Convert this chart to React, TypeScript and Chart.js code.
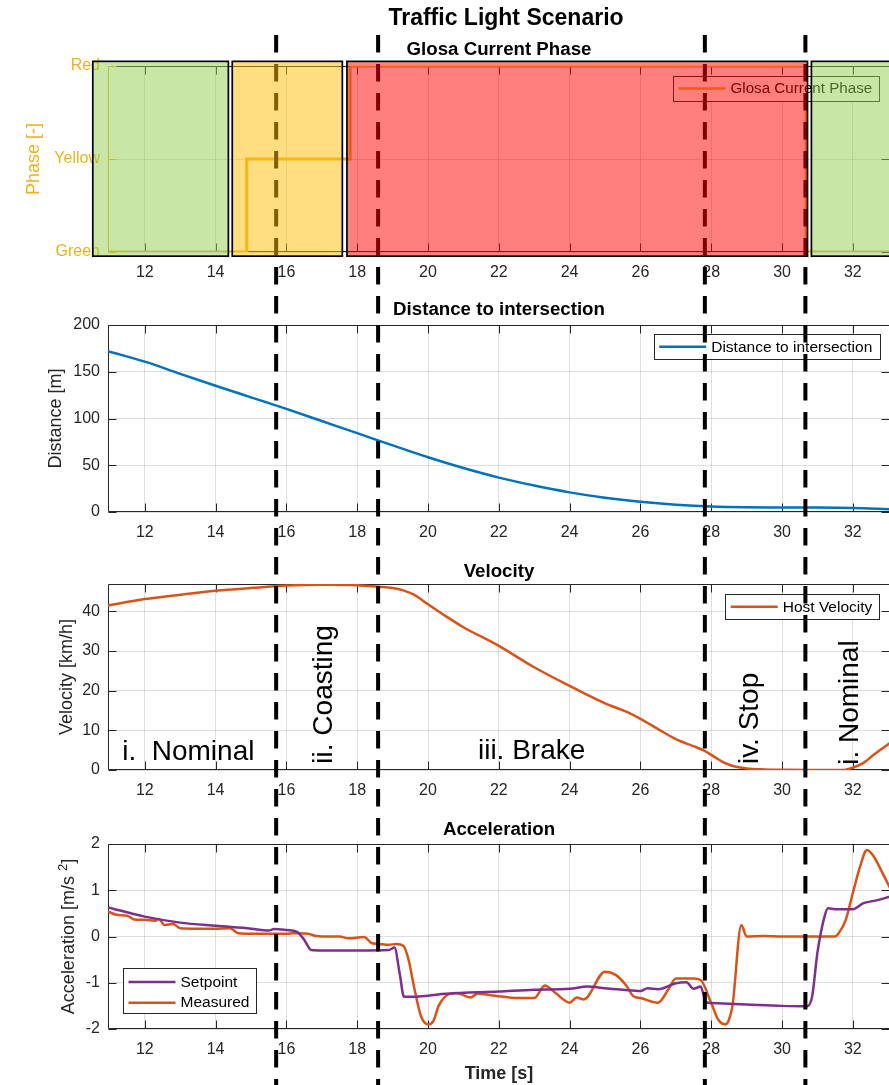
import React, { useEffect, useRef } from 'react';
import { Chart, registerables } from 'chart.js';

Chart.register(...registerables);

// ---------------- data ----------------
const TIME_MIN = 10.96;
const TIME_MAX = 33.05;
const TIME_TICKS = [12, 14, 16, 18, 20, 22, 24, 26, 28, 30, 32];

const PHASE_TIME = [10.96, 14.88, 17.8, 30.68, 33.05];
const PHASE_VALUE = [0, 1, 2, 0, 0];
const PHASE_TICKS = [0, 1, 2];
const PHASE_TICK_LABELS = ['Green', 'Yellow', 'Red'];

const LIGHT_NAME = ['green', 'yellow', 'red', 'green'];
const LIGHT_START = [10.53, 14.47, 17.71, 30.83];
const LIGHT_END = [14.36, 17.58, 30.72, 34.6];
const LIGHT_LOW = -0.045;
const LIGHT_HIGH = 2.05;

const DIST_TIME = [10.96, 12, 13, 14, 15, 16, 17, 18, 19, 20, 21, 22, 23, 24, 25, 26, 27, 28, 29, 30, 31, 32, 33.05];
const DIST_VALUE = [172, 160.8, 147.8, 135, 122.6, 110.3, 97.3, 84.3, 71.2, 58.5, 47, 36.8, 28.3, 21, 15.2, 10.9, 7.8, 5.8, 5.0, 4.8, 4.7, 4.2, 3.0];
const DIST_TICKS = [0, 50, 100, 150, 200];

const VEL_TIME = [10.96, 12, 13, 14, 15, 16, 17, 18, 18.6, 19, 19.3, 19.6, 20, 20.5, 21, 22, 23, 24, 25, 25.6, 26, 26.5, 27, 27.5, 27.8, 28, 28.2, 28.4, 28.7, 29, 29.5, 30, 31, 31.7, 32, 32.3, 32.6, 33.05];
const VEL_VALUE = [41.5, 43.1, 44.2, 45.2, 45.9, 46.5, 46.7, 46.6, 46.2, 45.9, 45.3, 44.2, 41.8, 38.8, 36, 31.3, 25.9, 21.2, 16.8, 14.7, 12.9, 10.3, 7.8, 6.0, 4.9, 3.8, 2.7, 1.7, 0.8, 0.4, 0.15, 0.05, 0, 0, 0.6, 1.8, 3.9, 6.8];
const VEL_TICKS = [0, 10, 20, 30, 40];
const VEL_MAX = 46.9;

const SET_TIME = [10.96, 12, 13, 14, 15, 15.5, 15.65, 16, 16.3, 16.5, 16.7, 17, 18, 18.9, 19.05, 19.2, 19.32, 19.6, 20, 20.5, 22, 23, 24, 24.5, 25, 25.5, 26, 26.2, 26.5, 27, 27.3, 27.5, 27.7, 27.85, 28, 29, 30, 30.7, 30.85, 31.0, 31.2, 31.3, 31.5, 32, 32.3, 32.6, 33.05];
const SET_VALUE = [0.63, 0.43, 0.30, 0.23, 0.17, 0.13, 0.16, 0.14, 0.10, -0.07, -0.29, -0.30, -0.30, -0.29, -0.24, -0.8, -1.3, -1.3, -1.28, -1.24, -1.19, -1.15, -1.13, -1.08, -1.12, -1.15, -1.18, -1.12, -1.14, -1.01, -0.99, -1.13, -1.08, -1.42, -1.44, -1.47, -1.50, -1.51, -1.30, -0.35, 0.43, 0.61, 0.59, 0.59, 0.72, 0.77, 0.86];

const MEAS_TIME = [10.96, 11.2, 11.5, 11.7, 12, 12.3, 12.4, 12.55, 12.8, 13.0, 13.5, 14, 14.4, 14.65, 15, 16, 16.2, 16.6, 16.85, 17, 17.5, 17.75, 18.2, 18.4, 18.6, 18.9, 19.1, 19.3, 19.45, 19.6, 19.8, 20, 20.15, 20.3, 20.6, 20.8, 21.2, 21.4, 21.6, 22, 22.5, 23, 23.3, 23.6, 24, 24.2, 24.4, 25, 25.3, 25.6, 25.8, 26, 26.5, 26.8, 27, 27.5, 27.7, 28, 28.2, 28.4, 28.5, 28.6, 28.85, 29, 29.5, 30, 31, 31.5, 31.6, 31.8, 32, 32.2, 32.4, 32.6, 32.8, 33.05];
const MEAS_VALUE = [0.54, 0.47, 0.45, 0.37, 0.36, 0.34, 0.38, 0.25, 0.27, 0.18, 0.17, 0.17, 0.18, 0.07, 0.06, 0.06, 0.07, 0.06, 0.01, 0.0, 0.0, -0.04, -0.01, -0.14, -0.16, -0.18, -0.16, -0.2, -0.5, -1.07, -1.72, -1.9, -1.83, -1.5, -1.24, -1.22, -1.32, -1.23, -1.25, -1.29, -1.33, -1.33, -1.06, -1.22, -1.43, -1.32, -1.36, -0.76, -0.83, -1.06, -1.29, -1.33, -1.43, -1.13, -0.91, -0.91, -0.94, -1.44, -1.8, -1.9, -1.8, -1.5, 0.25, 0.0, 0.01, 0.0, 0.0, 0.0, 0.07, 0.36, 0.94, 1.5, 1.87, 1.72, 1.43, 1.05];
const ACC_TICKS = [-2, -1, 0, 1, 2];

const STAGE_BOUNDARY_TIME = [15.71, 18.59, 27.82, 30.66];
const STAGE_LABELS = ['i.  Nominal', 'ii. Coasting', 'iii. Brake', 'iv. Stop', 'i. Nominal'];
const STAGE_TIME = [11.36, 17.28, 21.41, 29.32, 32.15];
const STAGE_SPEED = [2.5, 1.6, 2.8, 1.5, 1.3];
const STAGE_VERTICAL = [false, true, false, true, true];

// ---------------- style ----------------
const FONT = "'Liberation Sans', Arial, Helvetica, sans-serif";
const INK = '#262626';
const GRID = 'rgba(38,38,38,0.15)';
const PHASE_COLOR = '#EDB120';
const DIST_COLOR = '#0072BD';
const VEL_COLOR = '#D95319';
const SET_COLOR = '#7E2F8E';
const MEAS_COLOR = '#D95319';
const LIGHT_FILL: Record<string, string> = {
  green: 'rgba(145,205,75,0.5)',
  yellow: 'rgba(255,190,0,0.5)',
  red: 'rgba(255,0,0,0.5)',
};

const CANVAS_W = 890;
const Y_AXIS_W = 108;
const PANEL_TOP = [0, 290, 550, 810];
const PANEL_H = [290, 260, 260, 275];
const PLOT_TOP = [66, 35, 34, 34];
const X_AXIS_H = [38, 38, 40, 56];
const DASH_START = 35;
const DASH = [17.5, 11.5];

function pts(xs: number[], ys: number[]) {
  return xs.map((x, i) => ({ x, y: ys[i] }));
}

function panelOptions(i: number, y: any, xTitle: boolean) {
  return {
    responsive: false,
    animation: false,
    devicePixelRatio: 1,
    events: [],
    layout: { padding: { top: PLOT_TOP[i], left: 0, right: 0, bottom: 0 } },
    plugins: { legend: { display: false }, title: { display: false }, tooltip: { enabled: false } },
    scales: {
      x: {
        type: 'linear',
        min: TIME_MIN,
        max: TIME_MAX,
        afterBuildTicks: (s: any) => { s.ticks = TIME_TICKS.map((v) => ({ value: v })); },
        afterFit: (s: any) => { s.height = X_AXIS_H[i]; },
        ticks: {
          font: { family: FONT, size: 16 },
          color: INK,
          padding: 10.5,
          maxRotation: 0,
          autoSkip: false,
          callback: (v: any) => String(v),
        },
        grid: { color: GRID, drawTicks: false, lineWidth: 1 },
        border: { display: false },
        title: xTitle
          ? { display: true, text: 'Time [s]', color: INK, font: { family: FONT, size: 18, weight: 'bold' }, padding: { top: 0, bottom: 0 } }
          : { display: false },
      },
      y: {
        type: 'linear',
        min: y.min,
        max: y.max,
        afterBuildTicks: (s: any) => { s.ticks = y.ticks.map((v: number) => ({ value: v })); },
        afterFit: (s: any) => { s.width = Y_AXIS_W; },
        ticks: {
          font: { family: FONT, size: 16 },
          color: y.color || INK,
          padding: 8,
          autoSkip: false,
          callback: y.label || ((v: any) => String(v)),
        },
        grid: { color: GRID, drawTicks: false, lineWidth: 1 },
        border: { display: false },
      },
    },
  } as any;
}

function axesPlugin(leftColor: string) {
  return {
    id: 'matlabAxes',
    beforeDatasetsDraw(chart: any) {
      const { ctx, chartArea: a, scales } = chart;
      const L = Math.round(a.left) + 0.5;
      const R = Math.round(a.right) - 0.5;
      const T = Math.round(a.top) + 0.5;
      const B = Math.round(a.bottom) - 0.5;
      const tl = 8;
      ctx.save();
      ctx.lineWidth = 1;
      ctx.strokeStyle = INK;
      ctx.beginPath();
      ctx.moveTo(L, T); ctx.lineTo(R, T);
      ctx.moveTo(L, B); ctx.lineTo(R, B);
      ctx.moveTo(R, T); ctx.lineTo(R, B);
      for (const v of TIME_TICKS) {
        const x = Math.round(scales.x.getPixelForValue(v)) + 0.5;
        ctx.moveTo(x, B); ctx.lineTo(x, B - tl);
        ctx.moveTo(x, T); ctx.lineTo(x, T + tl);
      }
      for (const t of scales.y.ticks) {
        const y = Math.round(scales.y.getPixelForValue(t.value)) + 0.5;
        ctx.moveTo(R, y); ctx.lineTo(R - tl, y);
      }
      ctx.stroke();
      ctx.strokeStyle = leftColor;
      ctx.beginPath();
      ctx.moveTo(L, T); ctx.lineTo(L, B);
      for (const t of scales.y.ticks) {
        const y = Math.round(scales.y.getPixelForValue(t.value)) + 0.5;
        ctx.moveTo(L, y); ctx.lineTo(L + tl, y);
      }
      ctx.stroke();
      ctx.restore();
    },
  };
}

function drawTitle(chart: any, text: string, y: number, size: number, x?: number) {
  const { ctx, chartArea: a } = chart;
  ctx.save();
  ctx.font = `bold ${size}px ${FONT}`;
  ctx.fillStyle = '#000';
  ctx.textAlign = 'center';
  ctx.textBaseline = 'middle';
  ctx.fillText(text, x ?? (a.left + a.right) / 2, y);
  ctx.restore();
}

function drawYLabel(chart: any, text: string, x: number, color: string) {
  const { ctx, chartArea: a } = chart;
  ctx.save();
  ctx.translate(x, (a.top + a.bottom) / 2);
  ctx.rotate(-Math.PI / 2);
  ctx.font = `18px ${FONT}`;
  ctx.fillStyle = color;
  ctx.textAlign = 'center';
  ctx.textBaseline = 'middle';
  ctx.fillText(text, 0, 0);
  ctx.restore();
}

function drawAccLabel(chart: any, x: number) {
  const { ctx, chartArea: a } = chart;
  const main = 'Acceleration [m/s ';
  const sup = '2';
  const close = ']';
  ctx.save();
  ctx.translate(x, (a.top + a.bottom) / 2);
  ctx.rotate(-Math.PI / 2);
  ctx.fillStyle = INK;
  ctx.textBaseline = 'middle';
  ctx.textAlign = 'left';
  ctx.font = `18px ${FONT}`;
  const w1 = ctx.measureText(main).width;
  const w3 = ctx.measureText(close).width;
  ctx.font = `13px ${FONT}`;
  const w2 = ctx.measureText(sup).width;
  const start = -(w1 + w2 + w3) / 2;
  ctx.font = `18px ${FONT}`;
  ctx.fillText(main, start, 0);
  ctx.font = `13px ${FONT}`;
  ctx.fillText(sup, start + w1, -6);
  ctx.font = `18px ${FONT}`;
  ctx.fillText(close, start + w1 + w2, 0);
  ctx.restore();
}

function drawLegend(ctx: CanvasRenderingContext2D, entries: { label: string; color: string }[], left: number | null, right: number | null, top: number, fontSize: number) {
  ctx.save();
  ctx.font = `${fontSize}px ${FONT}`;
  const textW = Math.max(...entries.map((e) => ctx.measureText(e.label).width));
  const w = 57.5 + textW + 7;
  const h = entries.length === 1 ? 25 : 45;
  const x0 = left != null ? left : (right as number) - w;
  ctx.fillStyle = '#fff';
  ctx.fillRect(x0, top, w, h);
  ctx.strokeStyle = INK;
  ctx.lineWidth = 1;
  ctx.strokeRect(Math.round(x0) + 0.5, Math.round(top) + 0.5, Math.round(w), Math.round(h));
  entries.forEach((e, i) => {
    const cy = entries.length === 1 ? top + 12.5 : top + 14 + i * 20.7;
    ctx.strokeStyle = e.color;
    ctx.lineWidth = 2.5;
    ctx.beginPath();
    ctx.moveTo(x0 + 5.5, cy);
    ctx.lineTo(x0 + 52.5, cy);
    ctx.stroke();
    ctx.fillStyle = '#000';
    ctx.textBaseline = 'middle';
    ctx.textAlign = 'left';
    ctx.font = `${fontSize}px ${FONT}`;
    ctx.fillText(e.label, x0 + 57.5, cy + 0.5);
  });
  ctx.restore();
}

function drawBoundaries(chart: any, panel: number, fromY: number) {
  const { ctx, scales } = chart;
  ctx.save();
  ctx.strokeStyle = '#000';
  ctx.lineWidth = 4;
  ctx.setLineDash(DASH);
  ctx.lineDashOffset = PANEL_TOP[panel] + fromY - DASH_START;
  for (const t of STAGE_BOUNDARY_TIME) {
    const x = scales.x.getPixelForValue(t);
    ctx.beginPath();
    ctx.moveTo(x, fromY);
    ctx.lineTo(x, chart.height);
    ctx.stroke();
  }
  ctx.restore();
}

function drawLights(chart: any) {
  const { ctx, scales } = chart;
  const yT = scales.y.getPixelForValue(LIGHT_HIGH);
  const yB = scales.y.getPixelForValue(LIGHT_LOW);
  ctx.save();
  LIGHT_START.forEach((s, i) => {
    const x0 = scales.x.getPixelForValue(s);
    const x1 = scales.x.getPixelForValue(LIGHT_END[i]);
    ctx.fillStyle = LIGHT_FILL[LIGHT_NAME[i]];
    ctx.fillRect(x0, yT, x1 - x0, yB - yT);
    ctx.strokeStyle = '#000';
    ctx.lineWidth = 1.7;
    ctx.strokeRect(x0, yT, x1 - x0, yB - yT);
  });
  ctx.restore();
}

function drawStages(chart: any) {
  const { ctx, scales } = chart;
  ctx.save();
  ctx.font = `28px ${FONT}`;
  ctx.fillStyle = '#000';
  ctx.textAlign = 'left';
  ctx.textBaseline = 'alphabetic';
  STAGE_LABELS.forEach((label, i) => {
    const x = scales.x.getPixelForValue(STAGE_TIME[i]);
    const y = scales.y.getPixelForValue(STAGE_SPEED[i]);
    if (STAGE_VERTICAL[i]) {
      ctx.save();
      ctx.translate(x, y);
      ctx.rotate(-Math.PI / 2);
      ctx.fillText(label, 0, 0);
      ctx.restore();
    } else {
      ctx.fillText(label, x, y);
    }
  });
  ctx.restore();
}

export default function App() {
  const r0 = useRef<HTMLCanvasElement>(null);
  const r1 = useRef<HTMLCanvasElement>(null);
  const r2 = useRef<HTMLCanvasElement>(null);
  const r3 = useRef<HTMLCanvasElement>(null);

  useEffect(() => {
    const charts: Chart[] = [];

    charts.push(new Chart(r0.current as HTMLCanvasElement, {
      type: 'line',
      data: {
        datasets: [{
          label: 'Glosa Current Phase',
          data: pts(PHASE_TIME, PHASE_VALUE),
          borderColor: PHASE_COLOR,
          borderWidth: 3,
          pointRadius: 0,
          stepped: true,
          fill: false,
        }],
      },
      options: panelOptions(0, { min: 0, max: 2, ticks: PHASE_TICKS, color: PHASE_COLOR, label: (v: any) => PHASE_TICK_LABELS[v] ?? '' }, false),
      plugins: [axesPlugin(PHASE_COLOR), {
        id: 'decor0',
        afterDraw(chart: any) {
          drawTitle(chart, 'Traffic Light Scenario', 19, 23, 506);
          drawTitle(chart, 'Glosa Current Phase', 50, 18.7);
          drawYLabel(chart, 'Phase [-]', 34, PHASE_COLOR);
          drawLegend(chart.ctx, [{ label: 'Glosa Current Phase', color: PHASE_COLOR }], null, 879.3, 76, 15.2);
          drawBoundaries(chart, 0, DASH_START);
          drawLights(chart);
        },
      }],
    } as any));

    charts.push(new Chart(r1.current as HTMLCanvasElement, {
      type: 'line',
      data: {
        datasets: [{
          label: 'Distance to intersection',
          data: pts(DIST_TIME, DIST_VALUE),
          borderColor: DIST_COLOR,
          borderWidth: 2.5,
          pointRadius: 0,
          cubicInterpolationMode: 'monotone',
          fill: false,
        }],
      },
      options: panelOptions(1, { min: 0, max: 200, ticks: DIST_TICKS }, false),
      plugins: [axesPlugin(INK), {
        id: 'decor1',
        afterDraw(chart: any) {
          drawTitle(chart, 'Distance to intersection', 20, 18.7);
          drawYLabel(chart, 'Distance [m]', 56, INK);
          drawLegend(chart.ctx, [{ label: 'Distance to intersection', color: DIST_COLOR }], null, 879.3, 44.3, 15.5);
          drawBoundaries(chart, 1, 0);
        },
      }],
    } as any));

    charts.push(new Chart(r2.current as HTMLCanvasElement, {
      type: 'line',
      data: {
        datasets: [{
          label: 'Host Velocity',
          data: pts(VEL_TIME, VEL_VALUE),
          borderColor: VEL_COLOR,
          borderWidth: 2.5,
          pointRadius: 0,
          cubicInterpolationMode: 'monotone',
          fill: false,
        }],
      },
      options: panelOptions(2, { min: 0, max: VEL_MAX, ticks: VEL_TICKS }, false),
      plugins: [axesPlugin(INK), {
        id: 'decor2',
        afterDraw(chart: any) {
          drawTitle(chart, 'Velocity', 21.5, 18.7);
          drawYLabel(chart, 'Velocity [km/h]', 67, INK);
          drawLegend(chart.ctx, [{ label: 'Host Velocity', color: VEL_COLOR }], null, 879.3, 44.3, 15.5);
          drawStages(chart);
          drawBoundaries(chart, 2, 0);
        },
      }],
    } as any));

    charts.push(new Chart(r3.current as HTMLCanvasElement, {
      type: 'line',
      data: {
        datasets: [
          {
            label: 'Setpoint',
            data: pts(SET_TIME, SET_VALUE),
            borderColor: SET_COLOR,
            borderWidth: 2.5,
            pointRadius: 0,
            cubicInterpolationMode: 'monotone',
            fill: false,
          },
          {
            label: 'Measured',
            data: pts(MEAS_TIME, MEAS_VALUE),
            borderColor: MEAS_COLOR,
            borderWidth: 2.5,
            pointRadius: 0,
            cubicInterpolationMode: 'monotone',
            fill: false,
          },
        ],
      },
      options: panelOptions(3, { min: -2, max: 2, ticks: ACC_TICKS }, true),
      plugins: [axesPlugin(INK), {
        id: 'decor3',
        afterDraw(chart: any) {
          drawTitle(chart, 'Acceleration', 20, 18.7);
          drawAccLabel(chart, 69);
          drawLegend(chart.ctx, [
            { label: 'Setpoint', color: SET_COLOR },
            { label: 'Measured', color: MEAS_COLOR },
          ], 123, null, 158, 15.5);
          drawBoundaries(chart, 3, 0);
        },
      }],
    } as any));

    return () => { charts.forEach((c) => c.destroy()); };
  }, []);

  const refs = [r0, r1, r2, r3];
  return (
    <div style={{ position: 'fixed', left: 0, top: 0, width: 889, height: 1085, overflow: 'hidden', background: '#fff' }}>
      {refs.map((r, i) => (
        <canvas
          key={i}
          ref={r}
          width={CANVAS_W}
          height={PANEL_H[i]}
          style={{ position: 'absolute', left: 0, top: PANEL_TOP[i], width: CANVAS_W, height: PANEL_H[i], display: 'block' }}
        />
      ))}
    </div>
  );
}
